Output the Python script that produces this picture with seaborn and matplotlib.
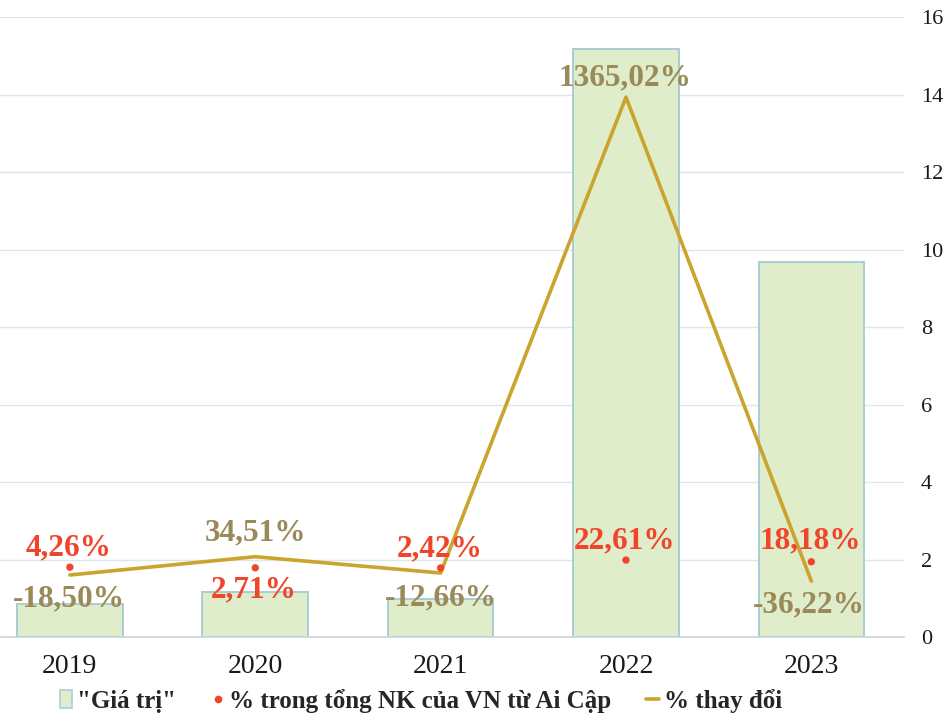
import numpy as np
import pandas as pd
import matplotlib
matplotlib.use("Agg")
import matplotlib.pyplot as plt
from matplotlib.patches import Patch
from matplotlib.lines import Line2D
import seaborn as sns

# Data
years = ["2019", "2020", "2021", "2022", "2023"]
gia_tri = [0.85, 1.16, 0.98, 15.17, 9.68]            # import value (bars, right axis)
ty_trong = [4.26, 2.71, 2.42, 22.61, 18.18]          # % of Vietnam's imports from Egypt
thay_doi = [-18.50, 34.51, -12.66, 1365.02, -36.22]  # % change year on year

ty_trong_lbl = ["4,26%", "2,71%", "2,42%", "22,61%", "18,18%"]
thay_doi_lbl = ["-18,50%", "34,51%", "-12,66%", "1365,02%", "-36,22%"]
yticks = [0, 2, 4, 6, 8, 10, 12, 14, 16]

sns.set_theme(style="white")
plt.rcParams["font.family"] = ["Liberation Serif", "DejaVu Serif"]

BAR_FILL = "#e0edcb"
BAR_EDGE = "#a9cdd6"
LINE_C = "#caa42c"
LINE_TXT = "#9a8a58"
RED = "#f0452a"
GRID = "#dde6ea"

df = pd.DataFrame({"year": years, "val": gia_tri, "share": ty_trong, "chg": thay_doi})
df["pos"] = np.arange(len(df))

fig = plt.figure(figsize=(9.52, 7.18), dpi=100)
ax = fig.add_axes([0.0, 0.1128, 0.9496, 0.8635])

sns.barplot(data=df, x="pos", y="val", ax=ax, color=BAR_FILL, width=0.57,
            edgecolor=BAR_EDGE, linewidth=1.4, saturation=1, native_scale=False)

# Percentage change line on its own hidden scale
ax2 = ax.twinx()
sns.lineplot(data=df, x="pos", y="chg", ax=ax2, color=LINE_C, linewidth=2.6)
ax2.set_ylim(-198, 1597)
ax2.set_axis_off()

# Import share dots on another hidden scale
ax3 = ax.twinx()
sns.scatterplot(data=df, x="pos", y="share", ax=ax3, color=RED, s=28,
                edgecolor="none", zorder=5)
ax3.set_ylim(-175, 1417)
ax3.set_axis_off()

ax.set_xlim(-0.377, 4.5)
for a in (ax2, ax3):
    a.set_xlim(ax.get_xlim())
ax.set_ylim(0, 16)
ax.set_yticks(yticks)
ax.yaxis.tick_right()
ax.set_xticks(df["pos"])
ax.set_xticklabels(years)
ax.tick_params(axis="x", labelsize=20, pad=12, length=0, colors="#1a1a1a")
ax.tick_params(axis="y", labelsize=16, pad=12, length=0, colors="#1a1a1a",
               labelleft=False, labelright=True)
ax.set_xlabel("")
ax.set_ylabel("")
ax.grid(axis="y", color=GRID, linewidth=1)
ax.set_axisbelow(True)
for s in ["top", "left", "right"]:
    ax.spines[s].set_visible(False)
ax.spines["bottom"].set_color("#c9d4d8")
ax.spines["bottom"].set_linewidth(1.2)

lbl_font = dict(fontsize=22.5, fontweight="bold", ha="center", va="center")

share_off = [14, -16, 14, 14, 15]
for x, v, t, o in zip(df["pos"], ty_trong, ty_trong_lbl, share_off):
    ax3.annotate(t, (x, v), xytext=(-1, o), textcoords="offset points",
                 color=RED, **lbl_font, zorder=6)

chg_off = [-17, 17, -18, 14, -17]
chg_dx = [-1, 0, 0, -1, -2]
for x, v, t, o, dx in zip(df["pos"], thay_doi, thay_doi_lbl, chg_off, chg_dx):
    ax2.annotate(t, (x, v), xytext=(dx, o), textcoords="offset points",
                 color=LINE_TXT, **lbl_font, zorder=6)

handles = [
    Patch(facecolor=BAR_FILL, edgecolor=BAR_EDGE, linewidth=1.2, label='"Giá trị"'),
    Line2D([], [], marker="o", color=RED, linestyle="none", markersize=4.5,
           label="% trong tổng NK của VN từ Ai Cập"),
    Line2D([], [], color=LINE_C, linewidth=2.6, label="% thay đổi"),
]
fig.legend(handles=handles, loc="center left", bbox_to_anchor=(0.063, 0.024), ncol=3,
           frameon=False, prop={"size": 18, "weight": "bold"},
           handlelength=0.5, handleheight=0.7, handletextpad=0.2,
           columnspacing=1.4, borderpad=0, borderaxespad=0)

fig.savefig("out.png", dpi=100)
